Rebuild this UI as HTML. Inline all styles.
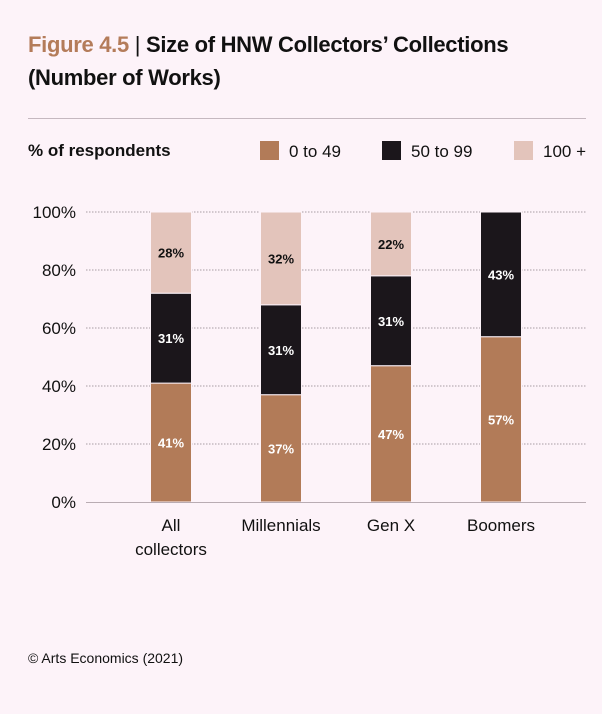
<!DOCTYPE html>
<html><head><meta charset="utf-8"><style>
body{margin:0;background:#fdf3f9;font-family:"Liberation Sans",sans-serif;}
#wrap{position:relative;width:602px;height:714px;overflow:hidden;}
.t{position:absolute;white-space:nowrap;}
</style></head><body>
<div id="wrap">
<div class="t" style="left:28px;top:28px;font-size:22px;font-weight:bold;line-height:33px;color:#111;letter-spacing:-0.3px">
<span style="color:#b47c5a">Figure 4.5</span> <span style="font-weight:normal">|</span> Size of HNW Collectors’ Collections<br>(Number of Works)</div>
<div style="position:absolute;left:28px;top:118px;width:558px;height:1px;background:#c5b8c0"></div>
<div class="t" style="left:28px;top:141px;font-size:17px;font-weight:bold;color:#111">% of respondents</div>
<svg id="c" width="602" height="714" style="position:absolute;left:0;top:0"></svg>
<div class="t" style="left:28px;top:650px;font-size:14px;color:#111">© Arts Economics (2021)</div>
</div>
<script>
const categories=["All|collectors","Millennials","Gen X","Boomers"];
const series=["0 to 49","50 to 99","100 +"];
const v0=[41,37,47,57];
const v1=[31,31,31,43];
const v2=[28,32,22,0];
const ticks=[0,20,40,60,80,100];
const colors=["#b27b58","#1b161b","#e3c4bb"];
const txtColors=["#fff","#fff","#111"];
const svg=document.getElementById('c');
const NS="http://www.w3.org/2000/svg";
const y=v=>502-v*2.9;
const x=i=>171+i*110;
const bw=41;
function mk(t,a){const e=document.createElementNS(NS,t);for(const k in a)e.setAttribute(k,a[k]);svg.appendChild(e);return e;}
ticks.forEach(t=>{
 if(t>0){const l=mk('line',{x1:86,x2:586,y1:y(t),y2:y(t),stroke:'#a89ca3','stroke-width':1,'stroke-dasharray':'1.5,1.5'});
 }
 const tx=mk('text',{x:76,y:y(t)+6,'text-anchor':'end','font-size':17,fill:'#111','font-family':'Liberation Sans'});
 tx.textContent=t+'%';
 
 
});
const vals=[v0,v1,v2];
categories.forEach((c,i)=>{
 let base=0;
 vals.forEach((arr,s)=>{
  const v=arr[i]; if(!v)return;
  const r=mk('rect',{x:x(i)-bw/2,y:y(base+v),width:bw,height:y(base)-y(base+v),fill:colors[s],stroke:'#fdf3f9','stroke-width':1});
  
  
  const t=mk('text',{x:x(i),y:y(base+v/2)+5,'text-anchor':'middle','font-size':13,'font-weight':'bold',fill:txtColors[s],'font-family':'Liberation Sans'});
  t.textContent=v+'%';
  
  
  base+=v;
 });
 c.split('|').forEach((ln,k)=>{
  const t=mk('text',{x:x(i),y:531+k*24,'text-anchor':'middle','font-size':17,fill:'#111','font-family':'Liberation Sans'});
  t.textContent=ln;
  
  
 });
});
const ax=mk('line',{x1:86,x2:586,y1:502.5,y2:502.5,stroke:'#b9acb3','stroke-width':1});


const lx=[260,382,514];
series.forEach((s,k)=>{
 const r=mk('rect',{x:lx[k],y:141,width:19,height:19,fill:colors[k]});
 
 
 const t=mk('text',{x:lx[k]+29,y:157,'font-size':17,fill:'#111','font-family':'Liberation Sans'});
 t.textContent=s;
 
 
});
</script>
</body></html>
